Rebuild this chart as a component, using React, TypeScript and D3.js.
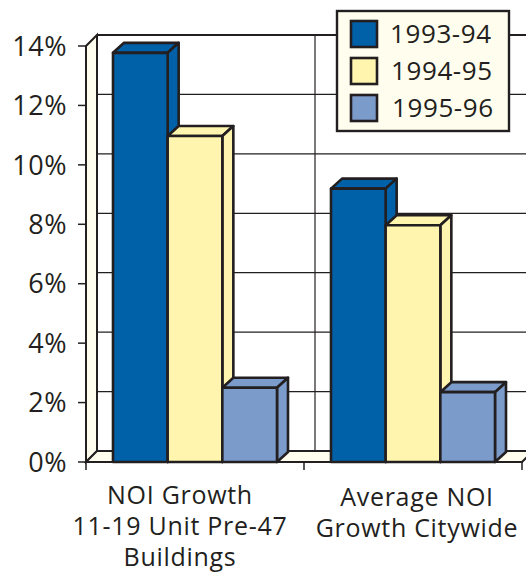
import React from "react";
import { scaleBand, scaleLinear, range } from "d3";

const categories = ["NOI Growth|11-19 Unit Pre-47|Buildings", "Average NOI|Growth Citywide"];
const seriesNames = ["1993-94", "1994-95", "1995-96"];
const seriesColors = ["#0060a8", "#fff5ae", "#7b9bcb"];
const values1993 = [13.77, 9.2];
const values1994 = [10.97, 7.97];
const values1995 = [2.5, 2.35];
const seriesValues = [values1993, values1994, values1995];
const yTicks = [0, 2, 4, 6, 8, 10, 12, 14];

const ink = "#231f20";
const wall = "#fffdee";
const font = "'Open Sans', 'Noto Sans', sans-serif";

export default function App() {
  const depth = 11;
  const left = 86;
  const right = 522;
  const y = scaleLinear().domain([0, 14]).range([462, 46]);
  const x0 = scaleBand<number>().domain(range(categories.length)).range([left, right]);
  const x1 = scaleBand<number>().domain(range(seriesNames.length)).range([27, 191]);
  const y0 = y(0);
  const yTop = y(14);

  return (
    <svg width={526} height={573} style={{ position: "absolute", left: 0, top: 0 }} fontFamily={font}>
      {/* side wall and floor */}
      <path
        d={`M${left},${y0}L${left},${yTop}L${left + depth},${yTop - depth}L${left + depth},${y0 - depth}Z`}
        fill={wall}
        stroke={ink}
        strokeWidth={2}
      />
      <path
        d={`M${left},${y0}L${left + depth},${y0 - depth}L${right + depth},${y0 - depth}L${right},${y0}Z`}
        fill={wall}
        stroke={ink}
        strokeWidth={2}
      />

      {/* gridlines on the back */}
      {yTicks.map((t) => (
        <line
          key={t}
          x1={left + depth}
          x2={526}
          y1={y(t) - depth}
          y2={y(t) - depth}
          stroke={ink}
          strokeWidth={t === 14 || t === 0 ? 2.2 : 1.2}
        />
      ))}
      <line
        x1={(x0(1) as number) + depth}
        x2={(x0(1) as number) + depth}
        y1={yTop - depth}
        y2={y0 - depth}
        stroke={ink}
        strokeWidth={1.2}
      />

      {/* y axis */}
      <line x1={left} x2={left} y1={yTop} y2={y0} stroke={ink} strokeWidth={2} />
      {yTicks.map((t) => (
        <g key={t} transform={`translate(${left},${y(t)})`}>
          <line x1={-8} x2={0} stroke={ink} strokeWidth={1.5} />
          <text x={-19} dy="0.36em" textAnchor="end" fontSize={27} letterSpacing={0.5} fill={ink}>
            {t}%
          </text>
        </g>
      ))}

      {/* x axis */}
      <line x1={left} x2={right} y1={y0} y2={y0} stroke={ink} strokeWidth={2} />
      {[left, x0(1) as number, right].map((v) => (
        <line key={v} x1={v} x2={v} y1={y0} y2={y0 + 8} stroke={ink} strokeWidth={1.5} />
      ))}

      {/* bars */}
      {categories.map((c, i) =>
        seriesNames.map((s, j) => {
          const xa = (x0(i) as number) + (x1(j) as number);
          const xb = xa + x1.bandwidth();
          const top = y(seriesValues[j][i]);
          return (
            <g key={c + s} stroke={ink} strokeWidth={2.6} strokeLinejoin="round" fill={seriesColors[j]}>
              <path d={`M${xa},${top}L${xa + depth},${top - 10}L${xb + depth},${top - 10}L${xb},${top}Z`} />
              <path d={`M${xb},${top}L${xb + depth},${top - 10}L${xb + depth},${y0 - 10}L${xb},${y0}Z`} />
              <rect x={xa} y={top} width={xb - xa} height={y0 - top} />
            </g>
          );
        })
      )}

      {/* category labels */}
      {categories.map((c, i) => (
        <text key={c} textAnchor="middle" fontSize={25} letterSpacing={0.7} fill={ink}>
          {c.split("|").map((line, k) => (
            <tspan key={line} x={i === 0 ? 180 : 417} y={(i === 0 ? 504 : 506) + k * 31}>
              {line}
            </tspan>
          ))}
        </text>
      ))}

      {/* legend */}
      <rect x={337} y={11} width={172} height={120} fill={wall} stroke={ink} strokeWidth={2.4} />
      {seriesNames.map((s, j) => (
        <g key={s} transform={`translate(350,${20 + j * 37})`}>
          <rect x={1} y={1} width={26} height={26} fill={seriesColors[j]} stroke={ink} strokeWidth={2.6} />
          <text x={40 + j} y={14} dy="0.36em" fontSize={26} letterSpacing={0.6} fill={ink}>
            {s}
          </text>
        </g>
      ))}
    </svg>
  );
}
